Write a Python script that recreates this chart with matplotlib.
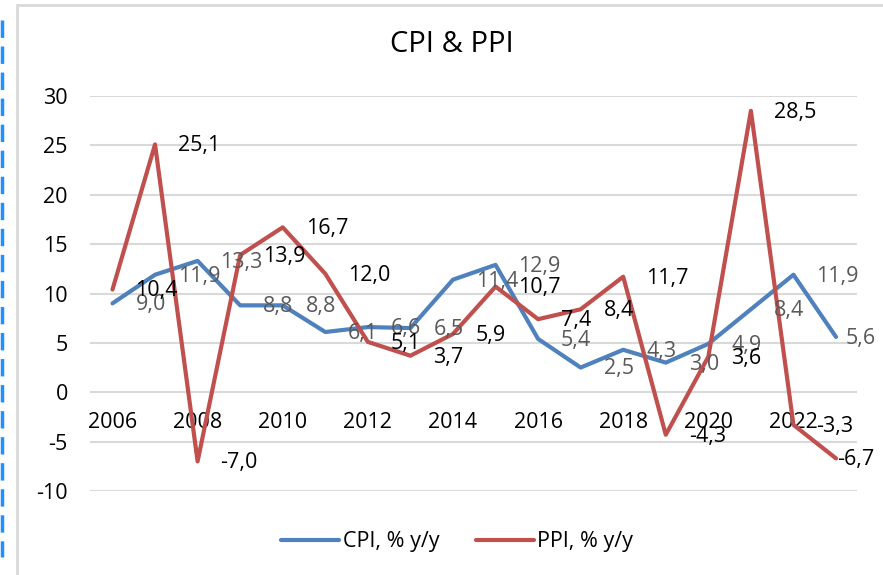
import matplotlib
matplotlib.use("Agg")
import matplotlib.pyplot as plt
from matplotlib.patches import Rectangle
from matplotlib.lines import Line2D

years = list(range(2006, 2024))
cpi = [9.0, 11.9, 13.3, 8.8, 8.8, 6.1, 6.6, 6.5, 11.4, 12.9, 5.4, 2.5, 4.3, 3.0, 4.9, 8.4, 11.9, 5.6]
ppi = [10.4, 25.1, -7.0, 13.9, 16.7, 12.0, 5.1, 3.7, 5.9, 10.7, 7.4, 8.4, 11.7, -4.3, 3.6, 28.5, -3.3, -6.7]
xtick_years = list(range(2006, 2024, 2))
yticks = [-10, -5, 0, 5, 10, 15, 20, 25, 30]
title = "CPI & PPI"
cpi_name = "CPI, % y/y"
ppi_name = "PPI, % y/y"

plt.rcParams['font.family'] = ['Open Sans', 'DejaVu Sans']

W, H = 883, 575
fig = plt.figure(figsize=(W / 100, H / 100), dpi=100)

# outer chart frame and selection dashed line
fig.patches.append(Rectangle((17 / W, -0.05), 1.1, 1 - 5 / H + 0.05, transform=fig.transFigure,
                             fill=False, edgecolor='#d9d9d9', lw=2))
fig.lines.append(Line2D([2 / W, 2 / W], [1 - 20 / H, 1 - 557 / H], transform=fig.transFigure,
                        color='#1e90ff', lw=2.5, linestyle=(0, (5, 2.5))))

ax = fig.add_axes([90 / W, (H - 491) / H, 767 / W, 395 / H])
ax.spines['bottom'].set_position(('data', 0))
ax.set_xlim(2006 - 22.5 / 42.6, 2023 + 21 / 42.6)
ax.set_ylim(-10, 30)

blue = '#4F81BD'
red = '#C0504D'
ax.plot(years, cpi, color=blue, lw=3, solid_joinstyle='round', solid_capstyle='round', zorder=3, label=cpi_name)
ax.plot(years, ppi, color=red, lw=3, solid_joinstyle='round', solid_capstyle='round', zorder=3, label=ppi_name)

fs = 15.5
last = len(years) - 1
for series, col in ((cpi, '#595959'), (ppi, 'black')):
    for i, (x, v) in enumerate(zip(years, series)):
        txt = f"{v:.1f}".replace('.', ',')
        if i == last:
            # Excel keeps labels inside the chart area
            off = 7 if v >= 0 else 1
        else:
            off = 16.5
        ax.annotate(txt, (x, v), xytext=(off, -1), textcoords='offset points',
                    ha='left', va='center', fontsize=fs, color=col, zorder=4)

ax.set_yticks(yticks)
ax.set_yticklabels([str(t) for t in yticks])
ax.set_xticks(xtick_years)
ax.set_xticklabels([str(t) for t in xtick_years])
ax.grid(axis='y', color='#d9d9d9', lw=1.5)
ax.set_axisbelow(True)
for s in ['top', 'right', 'left', 'bottom']:
    ax.spines[s].set_visible(False)
ax.tick_params(axis='y', length=0, pad=16, labelsize=fs)
ax.tick_params(axis='x', length=0, pad=14, labelsize=fs)

fig.text(452 / W, 1 - 45 / H, title, ha='center', va='center', fontsize=21)

fig.legend(loc='center', bbox_to_anchor=(457 / W, 1 - 542 / H), ncol=2, frameon=False,
           fontsize=fs, handlelength=2.7, handletextpad=0.15, columnspacing=1.7)

fig.savefig('out.png', dpi=100)
